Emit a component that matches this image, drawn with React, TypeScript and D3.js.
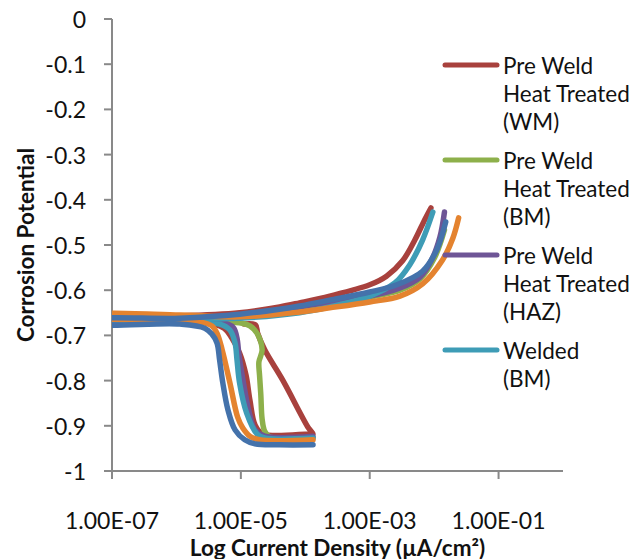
import React from "react";
import * as d3 from "d3";

// log10 of current density and potential
const wmLogI = [-4.95, -4.77, -4.74, -4.63, -4.35, -3.95, -3.88, -3.95, -4.66, -4.78, -4.86, -4.92, -5.02, -5.14, -5.26, -5.64, -7.3, -7.3, -5.95, -5.02, -4.4, -4.09, -3.62, -3.0, -2.74, -2.49, -2.3, -2.15, -2.05];
const wmE = [-0.675, -0.677, -0.695, -0.732, -0.799, -0.905, -0.918, -0.918, -0.918, -0.898, -0.843, -0.788, -0.739, -0.706, -0.684, -0.668, -0.664, -0.659, -0.657, -0.65, -0.637, -0.628, -0.613, -0.588, -0.569, -0.535, -0.489, -0.445, -0.418];

const bmLogI = [-3.88, -4.55, -4.63, -4.67, -4.69, -4.71, -4.72, -4.67, -4.75, -4.86, -4.98, -5.95, -7.3, -7.3, -5.02, -4.09, -3.62, -3.0, -2.53, -2.22, -1.99, -1.84];
const bmE = [-0.926, -0.925, -0.912, -0.885, -0.832, -0.788, -0.759, -0.732, -0.695, -0.679, -0.673, -0.666, -0.664, -0.662, -0.657, -0.639, -0.628, -0.615, -0.6, -0.575, -0.527, -0.467];

const hazLogI = [-3.88, -4.63, -4.78, -4.88, -4.94, -4.98, -5.03, -5.06, -5.11, -5.2, -5.95, -7.3, -7.3, -5.95, -5.02, -4.09, -3.62, -3.0, -2.53, -2.22, -2.04, -1.91, -1.84];
const hazE = [-0.923, -0.923, -0.909, -0.865, -0.821, -0.788, -0.743, -0.706, -0.684, -0.675, -0.668, -0.666, -0.662, -0.662, -0.655, -0.637, -0.626, -0.613, -0.595, -0.571, -0.533, -0.482, -0.427];

const weldBmLogI = [-3.88, -4.63, -4.75, -4.91, -5.02, -5.06, -5.09, -5.17, -5.33, -5.95, -7.3, -7.3, -5.95, -5.02, -4.09, -3.62, -3.0, -2.61, -2.38, -2.18, -2.02];
const weldBmE = [-0.927, -0.927, -0.918, -0.872, -0.805, -0.754, -0.717, -0.688, -0.675, -0.67, -0.668, -0.664, -0.664, -0.662, -0.65, -0.637, -0.613, -0.584, -0.544, -0.489, -0.427];

const weldWmLogI = [-3.88, -4.71, -4.86, -4.97, -5.05, -5.17, -5.29, -5.37, -5.45, -5.64, -7.3, -7.3, -5.95, -5.02, -4.09, -3.62, -3.0, -2.53, -2.18, -1.87, -1.71, -1.62];
const weldWmE = [-0.931, -0.931, -0.923, -0.905, -0.881, -0.805, -0.732, -0.695, -0.679, -0.67, -0.659, -0.655, -0.655, -0.659, -0.648, -0.639, -0.626, -0.613, -0.586, -0.533, -0.485, -0.44];

const weldHazLogI = [-3.88, -4.4, -4.78, -4.94, -5.09, -5.2, -5.28, -5.33, -5.37, -5.45, -5.56, -5.95, -7.3, -7.3, -5.95, -5.02, -4.4, -4.09, -3.62, -3.0, -2.58, -2.18, -1.96, -1.82];
const weldHazE = [-0.942, -0.942, -0.94, -0.931, -0.909, -0.865, -0.805, -0.754, -0.717, -0.697, -0.684, -0.675, -0.673, -0.666, -0.662, -0.653, -0.642, -0.635, -0.622, -0.604, -0.588, -0.558, -0.511, -0.449];

const seriesLogI = [wmLogI, bmLogI, hazLogI, weldBmLogI, weldWmLogI, weldHazLogI];
const seriesE = [wmE, bmE, hazE, weldBmE, weldWmE, weldHazE];
const seriesColors = ["#A8413D", "#8DB04B", "#6E5596", "#3E9CB6", "#E4832F", "#4472AB"];

const legendLabels = [
  ["Pre Weld", "Heat Treated", "(WM)"],
  ["Pre Weld", "Heat Treated", "(BM)"],
  ["Pre Weld", "Heat Treated", "(HAZ)"],
  ["Welded", "(BM)"],
];

const yTicks = [0, -0.1, -0.2, -0.3, -0.4, -0.5, -0.6, -0.7, -0.8, -0.9, -1];
const xTicks = [1e-7, 1e-5, 1e-3, 1e-1];
const xTickLabels = ["1.00E-07", "1.00E-05", "1.00E-03", "1.00E-01"];

const W = 644;
const H = 559;
const left = 112;
const right = 563;
const top = 19;
const bottom = 471;
const FONT = "Lato, 'Open Sans', sans-serif";

export default function App() {
  const x = d3.scaleLog().domain([1e-7, 1]).range([left, right]);
  const y = d3.scaleLinear().domain([-1, 0]).range([bottom, top]);
  const line = d3
    .line<[number, number]>()
    .x((d) => x(Math.pow(10, d[0])))
    .y((d) => y(d[1]))
    .curve(d3.curveCatmullRom.alpha(0.5));

  const axisColor = "#898989";

  return (
    <svg width={W} height={H} style={{ position: "absolute", left: 0, top: 0, background: "#fff" }}>
      <defs>
        <clipPath id="plotClip">
          <rect x={left} y={0} width={W - left} height={H} />
        </clipPath>
      </defs>
      {/* axes */}
      <line x1={left} y1={top} x2={left} y2={bottom + 8} stroke={axisColor} strokeWidth={2} />
      <line x1={left} y1={bottom} x2={right} y2={bottom} stroke={axisColor} strokeWidth={2} />
      {yTicks.map((t) => (
        <g key={"y" + t}>
          <line x1={left - 8} x2={left} y1={y(t)} y2={y(t)} stroke={axisColor} strokeWidth={2} />
          <text x={86} y={y(t)} textAnchor="end" dominantBaseline="central" fontFamily={FONT} fontSize={23} fill="#111">
            {String(+t.toFixed(1))}
          </text>
        </g>
      ))}
      {xTicks.map((t, i) => (
        <g key={"x" + t}>
          <line x1={x(t)} x2={x(t)} y1={bottom} y2={bottom + 8} stroke={axisColor} strokeWidth={2} />
          <text x={x(t)} y={520} textAnchor="middle" dominantBaseline="central" fontFamily={FONT} fontSize={23} fill="#111">
            {xTickLabels[i]}
          </text>
        </g>
      ))}
      <text x={(left + right) / 2} y={547} textAnchor="middle" dominantBaseline="central" fontFamily={FONT} fontWeight="bold" fontSize={22.5} fill="#111">
        Log Current Density (µA/cm²)
      </text>
      <text
        transform={`translate(25,${(top + bottom) / 2}) rotate(-90)`}
        textAnchor="middle"
        dominantBaseline="central"
        fontFamily={FONT}
        fontWeight="bold"
        fontSize={22.5}
        fill="#111"
      >
        Corrosion Potential
      </text>
      {/* series */}
      <g clipPath="url(#plotClip)">
        {seriesLogI.map((li, si) => {
          const pts = li.map((v, k) => [v, seriesE[si][k]] as [number, number]);
          return (
            <path
              key={si}
              d={line(pts) || ""}
              fill="none"
              stroke={seriesColors[si]}
              strokeWidth={5.5}
              strokeLinejoin="round"
              strokeLinecap="round"
            />
          );
        })}
      </g>
      {/* legend */}
      {legendLabels.map((lines, i) => {
        const y0 = 65 + i * 95;
        return (
          <g key={"l" + i}>
            <line x1={445} x2={497} y1={y0} y2={y0} stroke={seriesColors[i]} strokeWidth={5} strokeLinecap="round" />
            {lines.map((s, j) => (
              <text key={j} x={503} y={y0 + j * 28.3} dominantBaseline="central" fontFamily={FONT} fontSize={22.5} fill="#111">
                {s}
              </text>
            ))}
          </g>
        );
      })}
    </svg>
  );
}
